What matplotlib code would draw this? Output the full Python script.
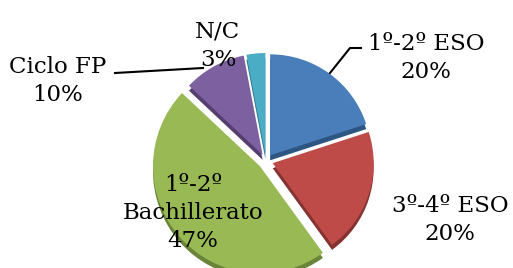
import matplotlib
matplotlib.use("Agg")
import matplotlib.pyplot as plt

# data
labels = ["1º-2º ESO", "3º-4º ESO", "1º-2º\nBachillerato", "Ciclo FP", "N/C"]
values = [20, 20, 47, 10, 3]
colors = ["#4a7ebb", "#be4b48", "#98b954", "#7d60a0", "#4aacc5"]
side_colors = ["#2e5683", "#853331", "#6a8439", "#553f70", "#2f7a8c"]

W, H = 513, 268
CENTER = (266, 107)
RADIUS = 101
EXPLODE = [7, 7, 8, 7, 7]
# the front (green) slice looks a little bigger in the 3D view
GREEN_RADIUS = 107

fig = plt.figure(figsize=(W / 100, H / 100), dpi=100)
ax = fig.add_axes([0, 0, 1, 1])

# darker copy shifted down for the 3D thickness
side, _ = ax.pie(values, colors=side_colors, startangle=90, counterclock=False,
                 explode=EXPLODE, radius=RADIUS, center=(CENTER[0], CENTER[1] - 5),
                 frame=True, wedgeprops=dict(linewidth=0))
top, _ = ax.pie(values, colors=colors, startangle=90, counterclock=False,
                explode=EXPLODE, radius=RADIUS, center=CENTER,
                frame=True, wedgeprops=dict(linewidth=0))
side[2].set_radius(GREEN_RADIUS)
top[2].set_radius(GREEN_RADIUS)

ax.set_xlim(0, W)
ax.set_ylim(0, H)
ax.set_aspect("equal")
ax.axis("off")

font = dict(family="DejaVu Serif", fontsize=16.5, ha="center", va="center",
            linespacing=1.38)

pcts = [f"{v}%" for v in values]
ax.text(426, H - 58, f"{labels[0]}\n{pcts[0]}", **font)
ax.text(450, H - 220, f"{labels[1]}\n{pcts[1]}", **font)
ax.text(193, H - 213, f"{labels[2]}\n{pcts[2]}", **font)
ax.text(58, H - 81, f"{labels[3]}\n{pcts[3]}", **font)
ax.text(218, H - 46, f"{labels[4]}\n{pcts[4]}", **font)

# leader lines
ax.plot([330, 350, 361], [H - 73, H - 48, H - 48], color="black", lw=1.5)
ax.plot([115, 203], [H - 73, H - 68], color="black", lw=1.5)

fig.savefig("out.png", dpi=100)
